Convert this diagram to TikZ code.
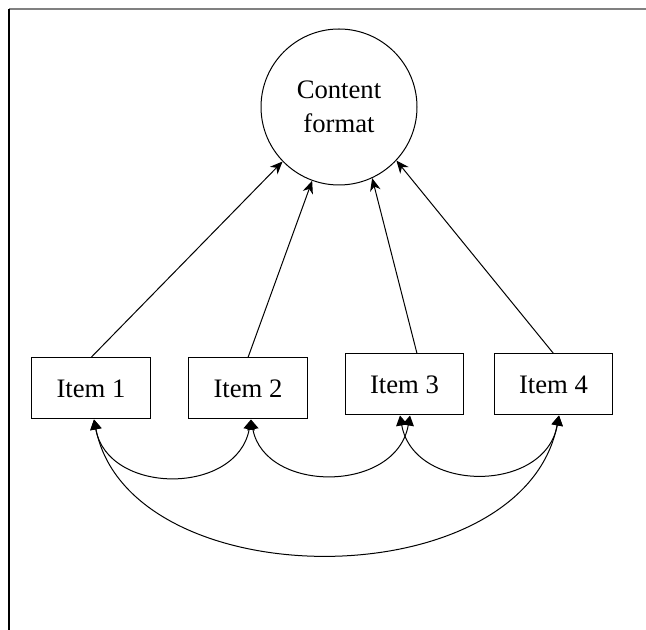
\documentclass[tikz,border=0pt]{standalone}
\usepackage{fontspec}
\setmainfont{Liberation Serif}
\usetikzlibrary{arrows.meta,calc}
\begin{document}
\begin{tikzpicture}[x=0.75pt,y=-0.75pt,
  lat/.style={draw,circle,line width=0.75pt,minimum size=117pt,inner sep=0pt,align=center,font=\fontsize{20}{25.5}\selectfont},
  item/.style={draw,rectangle,line width=0.75pt,minimum width=89pt,minimum height=45.75pt,inner sep=0pt,font=\fontsize{20}{24}\selectfont},
  load/.style={line width=0.75pt,-{Stealth[length=9.5pt,width=8pt,inset=3pt]}},
  cov/.style={line width=0.75pt,{Triangle[length=7.5pt,width=8.5pt]}-{Triangle[length=7.5pt,width=8.5pt]}}]
\useasboundingbox (0,0) rectangle (646,630);
\draw[gray,line width=1pt] (9,9) -- (646,9);
\draw[black,line width=0.9pt] (9,9) -- (9,630);
\node[lat] (cf) at (339,107) {Content\\format};
\node[item] (i1) at (91,388.5) {Item 1};
\node[item] (i2) at (248,388.5) {Item 2};
\node[item] (i3) at (404.5,384.5) {Item 3};
\node[item] (i4) at (553.5,384.5) {Item 4};
\draw[load] (i1.north) -- (cf.224);
\draw[load] (i2.north) -- (cf.250);
\draw[load] ($(i3.north)+(12.5,0)$) -- (cf.295);
\draw[load] (i4.north) -- (cf.317);
\coordinate (b1) at ($(i1.south)+(3,0)$);
\coordinate (b2) at ($(i2.south)+(3,0)$);
\coordinate (b3l) at ($(i3.south)+(-4.5,0)$);
\coordinate (b3r) at ($(i3.south)+(5.5,0)$);
\coordinate (b4) at ($(i4.south)+(5.5,0)$);
\draw[cov] (b1) .. controls +(14,76) and +(-14,76) .. (b2);
\draw[cov] (b2) .. controls +(14,74) and +(-14,78) .. (b3r);
\draw[cov] (b3l) .. controls +(14,78) and +(-14,78) .. (b4);
\draw[cov] (b1) .. controls +(36,180) and +(-36,184) .. (b4);
\end{tikzpicture}
\end{document}
